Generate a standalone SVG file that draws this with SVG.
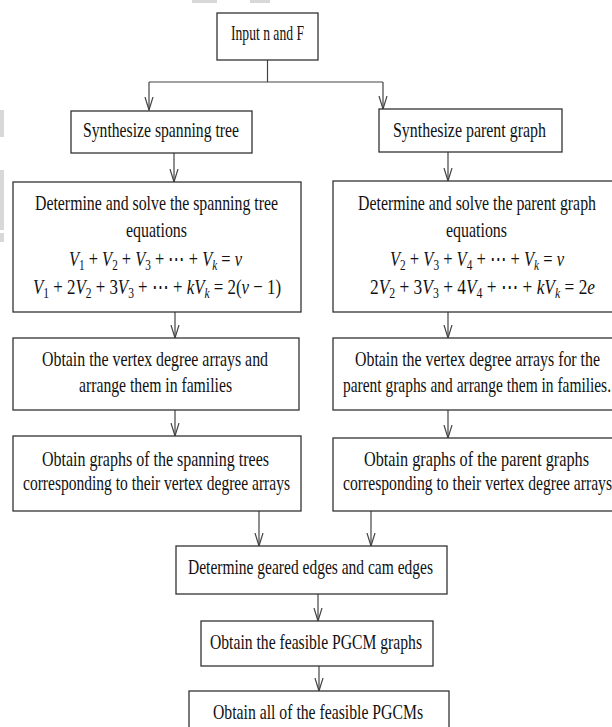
<svg xmlns="http://www.w3.org/2000/svg" width="612" height="727" viewBox="0 0 612 727">
<style>
.box{fill:#fff;stroke:#333;stroke-width:1.3}
.t{font-family:"Liberation Serif","Times New Roman",serif;font-size:22px;fill:#111}
.i{font-style:italic}
.s{font-size:15px}
.c{stroke:#444;stroke-width:1.2;fill:none}
.a{marker-end:url(#ah)}
.ghost{fill:#d8d8d8}
</style>
<defs>
<marker id="ah" viewBox="0 0 14 10" refX="13" refY="5" markerWidth="14" markerHeight="10" markerUnits="userSpaceOnUse" orient="auto">
<path d="M0,1 L13,5 L0,9" fill="none" stroke="#444" stroke-width="1.2"/>
</marker>
</defs>
<rect width="612" height="727" fill="#fff"/>
<g id="artifacts">
<rect class="ghost" x="0" y="110" width="4" height="27"/>
<rect class="ghost" x="0" y="170" width="4" height="60"/>
<rect class="ghost" x="0" y="233" width="4" height="9"/>
<rect class="ghost" x="192" y="0" width="25" height="3"/>
<rect class="ghost" x="250" y="0" width="20" height="3"/>
</g>
<g id="connectors">
<line class="c" x1="267.5" y1="60" x2="267.5" y2="82"/>
<line class="c" x1="149" y1="82" x2="383" y2="82"/>
<line class="c a" x1="149" y1="82" x2="149" y2="110"/>
<line class="c a" x1="383" y1="82" x2="383" y2="109"/>
<line class="c a" x1="174" y1="153" x2="174" y2="182"/>
<line class="c a" x1="448" y1="152" x2="448" y2="181"/>
<line class="c a" x1="175" y1="312" x2="175" y2="338"/>
<line class="c a" x1="448" y1="312" x2="448" y2="338"/>
<line class="c a" x1="175" y1="410" x2="175" y2="436"/>
<line class="c a" x1="448" y1="410" x2="448" y2="438"/>
<line class="c a" x1="259" y1="511" x2="259" y2="546"/>
<line class="c a" x1="371" y1="511" x2="371" y2="546"/>
<line class="c a" x1="318" y1="594" x2="318" y2="621"/>
<line class="c a" x1="319" y1="666" x2="319" y2="691"/>
</g>
<g id="input">
<rect class="box" x="217" y="13" width="101" height="47"/>
<text class="t" x="231" y="40" textLength="73" lengthAdjust="spacingAndGlyphs">Input n and F</text>
</g>
<g id="synth-tree">
<rect class="box" x="71" y="111" width="181" height="42"/>
<text class="t" x="83" y="137" textLength="156" lengthAdjust="spacingAndGlyphs">Synthesize spanning tree</text>
</g>
<g id="synth-parent">
<rect class="box" x="379" y="109" width="183" height="43"/>
<text class="t" x="393" y="137" textLength="153" lengthAdjust="spacingAndGlyphs">Synthesize parent graph</text>
</g>
<g id="tree-equations">
<rect class="box" x="13" y="182" width="288" height="130"/>
<text class="t" x="35" y="210" textLength="243" lengthAdjust="spacingAndGlyphs">Determine and solve the spanning tree</text>
<text class="t" x="126" y="237" textLength="61" lengthAdjust="spacingAndGlyphs">equations</text>
<text class="t" x="69" y="266" textLength="173" lengthAdjust="spacingAndGlyphs"><tspan class="i">V</tspan><tspan class="s" dy="4">1</tspan><tspan dy="-4"> + </tspan><tspan class="i">V</tspan><tspan class="s" dy="4">2</tspan><tspan dy="-4"> + </tspan><tspan class="i">V</tspan><tspan class="s" dy="4">3</tspan><tspan dy="-4"> + ⋯ + </tspan><tspan class="i">V</tspan><tspan class="s i" dy="4">k</tspan><tspan dy="-4"> = </tspan><tspan class="i">v</tspan></text>
<text class="t" x="33" y="294" textLength="248" lengthAdjust="spacingAndGlyphs"><tspan class="i">V</tspan><tspan class="s" dy="4">1</tspan><tspan dy="-4"> + 2</tspan><tspan class="i">V</tspan><tspan class="s" dy="4">2</tspan><tspan dy="-4"> + 3</tspan><tspan class="i">V</tspan><tspan class="s" dy="4">3</tspan><tspan dy="-4"> + ⋯ + </tspan><tspan class="i">kV</tspan><tspan class="s i" dy="4">k</tspan><tspan dy="-4"> = 2(</tspan><tspan class="i">v</tspan><tspan> − 1)</tspan></text>
</g>
<g id="parent-equations">
<rect class="box" x="333" y="181" width="285" height="131"/>
<text class="t" x="358" y="210" textLength="238" lengthAdjust="spacingAndGlyphs">Determine and solve the parent graph</text>
<text class="t" x="446" y="237" textLength="61" lengthAdjust="spacingAndGlyphs">equations</text>
<text class="t" x="390" y="266" textLength="174" lengthAdjust="spacingAndGlyphs"><tspan class="i">V</tspan><tspan class="s" dy="4">2</tspan><tspan dy="-4"> + </tspan><tspan class="i">V</tspan><tspan class="s" dy="4">3</tspan><tspan dy="-4"> + </tspan><tspan class="i">V</tspan><tspan class="s" dy="4">4</tspan><tspan dy="-4"> + ⋯ + </tspan><tspan class="i">V</tspan><tspan class="s i" dy="4">k</tspan><tspan dy="-4"> = </tspan><tspan class="i">v</tspan></text>
<text class="t" x="370" y="294" textLength="225" lengthAdjust="spacingAndGlyphs"><tspan>2</tspan><tspan class="i">V</tspan><tspan class="s" dy="4">2</tspan><tspan dy="-4"> + 3</tspan><tspan class="i">V</tspan><tspan class="s" dy="4">3</tspan><tspan dy="-4"> + 4</tspan><tspan class="i">V</tspan><tspan class="s" dy="4">4</tspan><tspan dy="-4"> + ⋯ + </tspan><tspan class="i">kV</tspan><tspan class="s i" dy="4">k</tspan><tspan dy="-4"> = 2</tspan><tspan class="i">e</tspan></text>
</g>
<g id="tree-arrays">
<rect class="box" x="13" y="338" width="286" height="72"/>
<text class="t" x="42" y="366" textLength="226" lengthAdjust="spacingAndGlyphs">Obtain the vertex degree arrays and</text>
<text class="t" x="79" y="392" textLength="153" lengthAdjust="spacingAndGlyphs">arrange them in families</text>
</g>
<g id="parent-arrays">
<rect class="box" x="333" y="338" width="285" height="72"/>
<text class="t" x="355" y="366" textLength="245" lengthAdjust="spacingAndGlyphs">Obtain the vertex degree arrays for the</text>
<text class="t" x="343" y="392" textLength="268" lengthAdjust="spacingAndGlyphs">parent graphs and arrange them in families.</text>
</g>
<g id="tree-graphs">
<rect class="box" x="13" y="436" width="288" height="75"/>
<text class="t" x="42" y="466" textLength="227" lengthAdjust="spacingAndGlyphs">Obtain graphs of the spanning trees</text>
<text class="t" x="23" y="490" textLength="267" lengthAdjust="spacingAndGlyphs">corresponding to their vertex degree arrays</text>
</g>
<g id="parent-graphs">
<rect class="box" x="333" y="438" width="285" height="73"/>
<text class="t" x="364" y="466" textLength="225" lengthAdjust="spacingAndGlyphs">Obtain graphs of the parent graphs</text>
<text class="t" x="343" y="490" textLength="269" lengthAdjust="spacingAndGlyphs">corresponding to their vertex degree arrays</text>
</g>
<g id="geared-cam">
<rect class="box" x="176" y="546" width="271" height="48"/>
<text class="t" x="188" y="574" textLength="245" lengthAdjust="spacingAndGlyphs">Determine geared edges and cam edges</text>
</g>
<g id="pgcm-graphs">
<rect class="box" x="201" y="621" width="232" height="45"/>
<text class="t" x="210" y="649" textLength="212" lengthAdjust="spacingAndGlyphs">Obtain the feasible PGCM graphs</text>
</g>
<g id="pgcms">
<rect class="box" x="189" y="691" width="260" height="45"/>
<text class="t" x="213" y="719" textLength="210" lengthAdjust="spacingAndGlyphs">Obtain all of the feasible PGCMs</text>
</g>
</svg>
